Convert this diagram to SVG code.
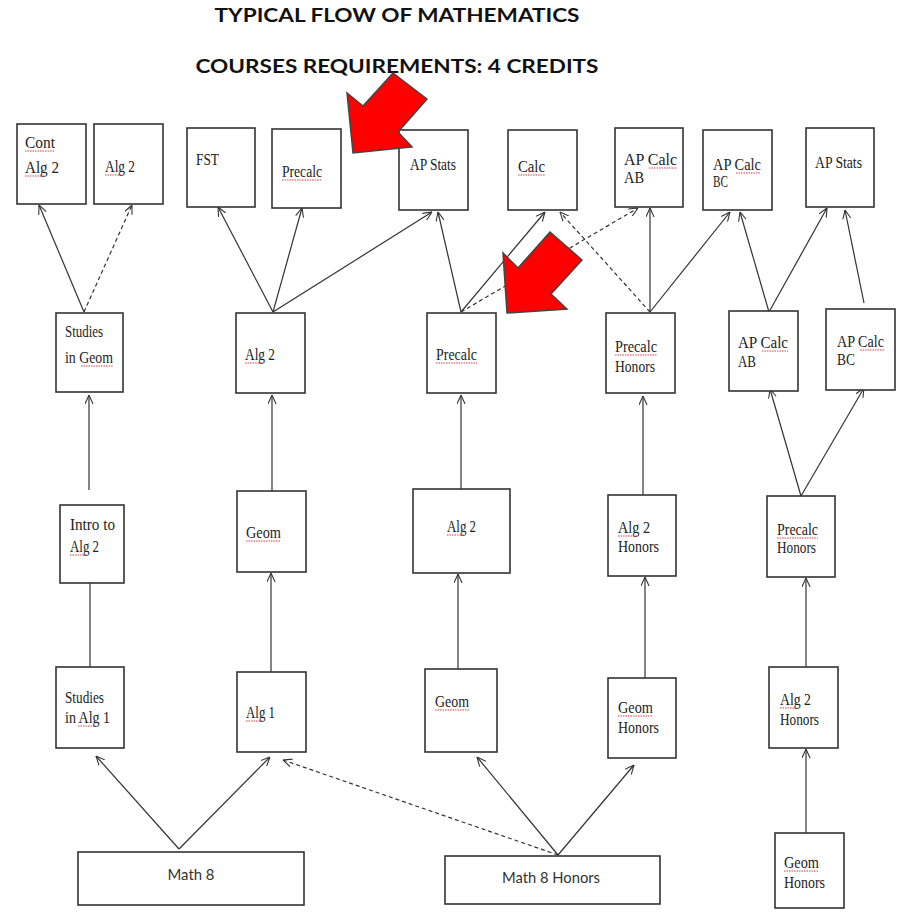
<svg xmlns="http://www.w3.org/2000/svg" width="906" height="913" viewBox="0 0 906 913">
<defs>
<marker id="ah" viewBox="0 0 10 10" refX="10" refY="5" markerWidth="9" markerHeight="9" markerUnits="userSpaceOnUse" orient="auto">
<path d="M0,0.5 L10,5 L0,9.5" fill="none" stroke="#333" stroke-width="1.2"/>
</marker>
<style>
.box{fill:#fff;stroke:#333;stroke-width:1.6}
.t{font-family:"Liberation Serif","Times New Roman",serif;font-size:16px;fill:#222}
.s{font-family:Lato,"Liberation Sans",Arial,sans-serif;font-size:16px;fill:#333}
.title{font-family:Lato,"Liberation Sans",Arial,sans-serif;font-size:19px;font-weight:bold;fill:#111}
.c{fill:none;stroke:#333;stroke-width:1.2;marker-end:url(#ah)}
.d{stroke-dasharray:4,3}
.sq{fill:none;stroke:#d84040;stroke-width:1;stroke-dasharray:1.5,1}
.red{fill:#ff0000;stroke:#444;stroke-width:1.5;stroke-linejoin:miter}
</style>
</defs>
<rect width="906" height="913" fill="#fff"/>
<g id="titles">
<text class="title" x="397" y="22" text-anchor="middle" textLength="365" lengthAdjust="spacingAndGlyphs">TYPICAL FLOW OF MATHEMATICS</text>
<text class="title" x="397" y="73" text-anchor="middle" textLength="403" lengthAdjust="spacingAndGlyphs">COURSES REQUIREMENTS: 4 CREDITS</text>
</g>
<g id="connectors">
<path class="c" d="M179,849 L96,756"/>
<path class="c" d="M179,849 L270,757"/>
<path class="c" d="M558,855 L477,757"/>
<path class="c" d="M558,855 L634,765"/>
<path class="c d" d="M558,855 L283,760"/>
<path class="c" d="M806,833 L806,749"/>
<path class="c" d="M90,667 L90,573"/>
<path class="c" d="M89,490 L89,395"/>
<path class="c" d="M271,672 L271,573"/>
<path class="c" d="M272,491 L272,395"/>
<path class="c" d="M458,669 L458,574"/>
<path class="c" d="M461,489 L461,395"/>
<path class="c" d="M645,678 L645,577"/>
<path class="c" d="M643,495 L643,396"/>
<path class="c" d="M806,667 L806,578"/>
<path class="c" d="M801,496 L770,389"/>
<path class="c" d="M801,496 L864,388"/>
<path class="c" d="M84,312 L39,205"/>
<path class="c d" d="M84,312 L132,205"/>
<path class="c" d="M273,312 L218,207"/>
<path class="c" d="M273,312 L302,208"/>
<path class="c" d="M273,312 L432,212"/>
<path class="c" d="M461,312 L438,212"/>
<path class="c" d="M461,312 L545,212"/>
<path class="c d" d="M461,312 L638,208"/>
<path class="c d" d="M650,312 L560,212"/>
<path class="c" d="M650,312 L650,208"/>
<path class="c" d="M650,312 L730,212"/>
<path class="c" d="M769,312 L740,212"/>
<path class="c" d="M769,312 L827,208"/>
<path class="c" d="M864,303 L845,210"/>
</g>
<g id="n-cont-alg2"><rect class="box" x="17" y="124" width="69" height="80"/><text class="t" x="25" y="148" textLength="30" lengthAdjust="spacingAndGlyphs">Cont</text><text class="t" x="25" y="173" textLength="34" lengthAdjust="spacingAndGlyphs">Alg 2</text><path class="sq" d="M25,151 h30 M25,176 h20"/></g>
<g id="n-alg2-top"><rect class="box" x="94" y="124" width="69" height="80"/><text class="t" x="105" y="172" textLength="30" lengthAdjust="spacingAndGlyphs">Alg 2</text><path class="sq" d="M105,175 h18"/></g>
<g id="n-fst"><rect class="box" x="187" y="128" width="68" height="79"/><text class="t" x="196" y="165" textLength="23" lengthAdjust="spacingAndGlyphs">FST</text></g>
<g id="n-precalc-top"><rect class="box" x="272" y="129" width="69" height="79"/><text class="t" x="282" y="177" textLength="40" lengthAdjust="spacingAndGlyphs">Precalc</text><path class="sq" d="M282,180 h40"/></g>
<g id="n-apstats1"><rect class="box" x="399" y="130" width="69" height="80"/><text class="t" x="410" y="170" textLength="46" lengthAdjust="spacingAndGlyphs">AP Stats</text></g>
<g id="n-calc"><rect class="box" x="508" y="130" width="69" height="80"/><text class="t" x="518" y="172" textLength="27" lengthAdjust="spacingAndGlyphs">Calc</text><path class="sq" d="M518,175 h27"/></g>
<g id="n-apcalcab-top"><rect class="box" x="615" y="128" width="68" height="79"/><text class="t" x="624" y="165" textLength="53" lengthAdjust="spacingAndGlyphs">AP Calc</text><text class="t" x="624" y="183" textLength="20" lengthAdjust="spacingAndGlyphs">AB</text><path class="sq" d="M649,168 h28"/></g>
<g id="n-apcalcbc-top"><rect class="box" x="703" y="130" width="69" height="80"/><text class="t" x="713" y="170" textLength="48" lengthAdjust="spacingAndGlyphs">AP Calc</text><text class="t" x="713" y="187" textLength="15" lengthAdjust="spacingAndGlyphs">BC</text><path class="sq" d="M736,173 h25"/></g>
<g id="n-apstats2"><rect class="box" x="806" y="128" width="68" height="79"/><text class="t" x="815" y="168" textLength="47" lengthAdjust="spacingAndGlyphs">AP Stats</text></g>
<g id="n-studies-geom"><rect class="box" x="56" y="313" width="67" height="79"/><text class="t" x="65" y="337" textLength="38" lengthAdjust="spacingAndGlyphs">Studies</text><text class="t" x="65" y="363" textLength="48" lengthAdjust="spacingAndGlyphs">in Geom</text><path class="sq" d="M81,366 h32"/></g>
<g id="n-alg2-mid"><rect class="box" x="236" y="313" width="69" height="80"/><text class="t" x="245" y="360" textLength="30" lengthAdjust="spacingAndGlyphs">Alg 2</text><path class="sq" d="M245,363 h18"/></g>
<g id="n-precalc-mid"><rect class="box" x="427" y="313" width="69" height="80"/><text class="t" x="436" y="360" textLength="41" lengthAdjust="spacingAndGlyphs">Precalc</text><path class="sq" d="M436,363 h41"/></g>
<g id="n-precalc-honors-mid"><rect class="box" x="606" y="313" width="69" height="80"/><text class="t" x="615" y="352" textLength="42" lengthAdjust="spacingAndGlyphs">Precalc</text><text class="t" x="615" y="372" textLength="40" lengthAdjust="spacingAndGlyphs">Honors</text><path class="sq" d="M615,355 h42"/></g>
<g id="n-apcalcab-mid"><rect class="box" x="729" y="311" width="69" height="80"/><text class="t" x="738" y="348" textLength="50" lengthAdjust="spacingAndGlyphs">AP Calc</text><text class="t" x="738" y="367" textLength="18" lengthAdjust="spacingAndGlyphs">AB</text><path class="sq" d="M762,351 h26"/></g>
<g id="n-apcalcbc-mid"><rect class="box" x="826" y="309" width="69" height="81"/><text class="t" x="837" y="347" textLength="47" lengthAdjust="spacingAndGlyphs">AP Calc</text><text class="t" x="837" y="365" textLength="18" lengthAdjust="spacingAndGlyphs">BC</text><path class="sq" d="M860,350 h24"/></g>
<g id="n-intro-alg2"><rect class="box" x="60" y="505" width="64" height="78"/><text class="t" x="70" y="530" textLength="45" lengthAdjust="spacingAndGlyphs">Intro to</text><text class="t" x="70" y="552" textLength="29" lengthAdjust="spacingAndGlyphs">Alg 2</text><path class="sq" d="M70,555 h17"/></g>
<g id="n-geom-r3"><rect class="box" x="237" y="491" width="69" height="81"/><text class="t" x="246" y="538" textLength="35" lengthAdjust="spacingAndGlyphs">Geom</text><path class="sq" d="M246,541 h35"/></g>
<g id="n-alg2-r3"><rect class="box" x="413" y="489" width="97" height="84"/><text class="t" x="447" y="532" textLength="29" lengthAdjust="spacingAndGlyphs">Alg 2</text><path class="sq" d="M447,535 h17"/></g>
<g id="n-alg2-honors-r3"><rect class="box" x="608" y="495" width="68" height="81"/><text class="t" x="618" y="533" textLength="32" lengthAdjust="spacingAndGlyphs">Alg 2</text><text class="t" x="618" y="552" textLength="41" lengthAdjust="spacingAndGlyphs">Honors</text><path class="sq" d="M618,536 h19"/></g>
<g id="n-precalc-honors-r3"><rect class="box" x="767" y="496" width="68" height="81"/><text class="t" x="777" y="535" textLength="41" lengthAdjust="spacingAndGlyphs">Precalc</text><text class="t" x="777" y="553" textLength="39" lengthAdjust="spacingAndGlyphs">Honors</text><path class="sq" d="M777,538 h41"/></g>
<g id="n-studies-alg1"><rect class="box" x="56" y="667" width="68" height="81"/><text class="t" x="65" y="703" textLength="39" lengthAdjust="spacingAndGlyphs">Studies</text><text class="t" x="65" y="723" textLength="45" lengthAdjust="spacingAndGlyphs">in Alg 1</text><path class="sq" d="M78,726 h18"/></g>
<g id="n-alg1"><rect class="box" x="237" y="672" width="69" height="80"/><text class="t" x="246" y="718" textLength="29" lengthAdjust="spacingAndGlyphs">Alg 1</text><path class="sq" d="M246,721 h17"/></g>
<g id="n-geom-r4"><rect class="box" x="425" y="669" width="72" height="83"/><text class="t" x="435" y="707" textLength="34" lengthAdjust="spacingAndGlyphs">Geom</text><path class="sq" d="M435,710 h34"/></g>
<g id="n-geom-honors-r4"><rect class="box" x="608" y="678" width="68" height="80"/><text class="t" x="618" y="713" textLength="35" lengthAdjust="spacingAndGlyphs">Geom</text><text class="t" x="618" y="733" textLength="41" lengthAdjust="spacingAndGlyphs">Honors</text><path class="sq" d="M618,716 h35"/></g>
<g id="n-alg2-honors-r4"><rect class="box" x="769" y="667" width="69" height="81"/><text class="t" x="780" y="705" textLength="31" lengthAdjust="spacingAndGlyphs">Alg 2</text><text class="t" x="780" y="725" textLength="39" lengthAdjust="spacingAndGlyphs">Honors</text><path class="sq" d="M780,708 h18"/></g>
<g id="n-math8"><rect class="box" x="78" y="852" width="226" height="53"/><text class="s" x="191" y="880" text-anchor="middle" textLength="47" lengthAdjust="spacingAndGlyphs">Math 8</text></g>
<g id="n-math8-honors"><rect class="box" x="445" y="856" width="215" height="48"/><text class="s" x="551" y="883" text-anchor="middle" textLength="98" lengthAdjust="spacingAndGlyphs">Math 8 Honors</text></g>
<g id="n-geom-honors-r5"><rect class="box" x="775" y="833" width="69" height="75"/><text class="t" x="784" y="868" textLength="35" lengthAdjust="spacingAndGlyphs">Geom</text><text class="t" x="784" y="888" textLength="41" lengthAdjust="spacingAndGlyphs">Honors</text><path class="sq" d="M784,871 h35"/></g>
<g id="red-arrows">
<polygon class="red" points="393,73 427,99 398,132 412,147 353,153 347,93 363,106"/>
<polygon class="red" points="550,232 582,260 551,294 567,309 507,313 503,253 518,268"/>
</g>
</svg>
